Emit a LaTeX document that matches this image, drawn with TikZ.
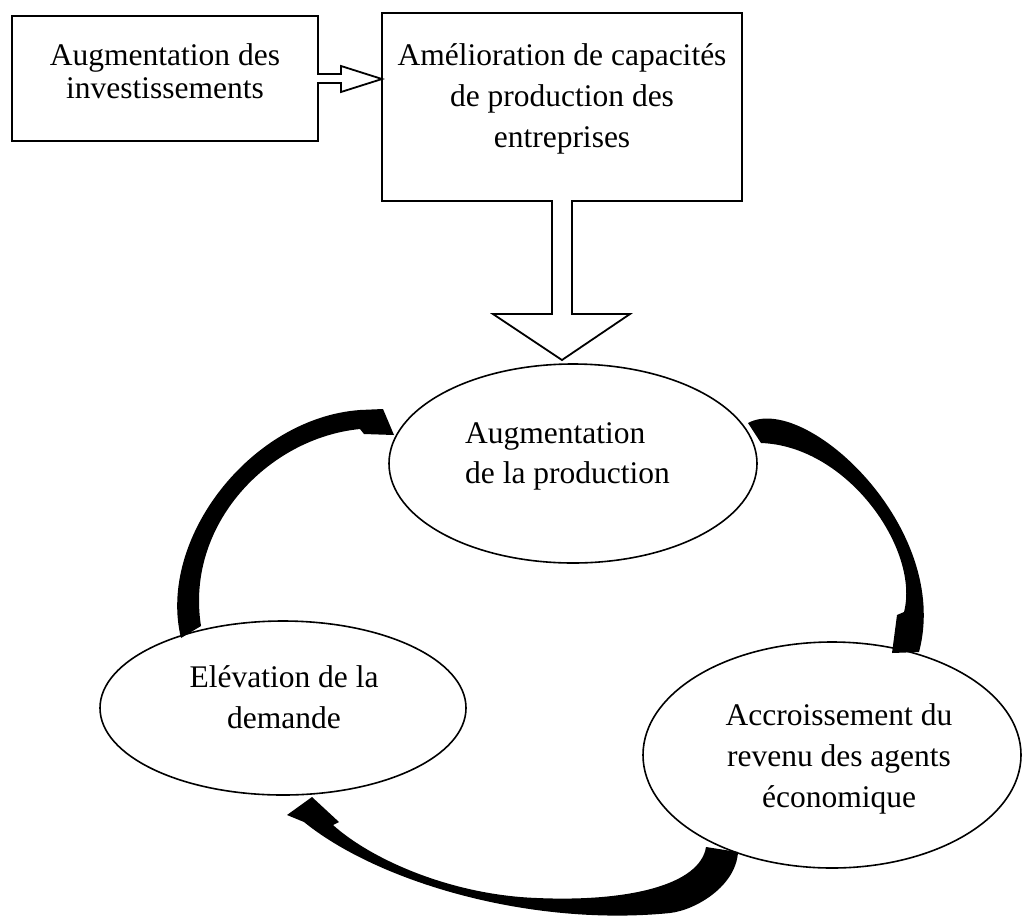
\documentclass[tikz,border=0pt]{standalone}
\usepackage{fontspec}
\setmainfont{Liberation Serif}
\usetikzlibrary{shapes.geometric}
\begin{document}
\begin{tikzpicture}[x=1pt,y=-1pt,
  box/.style={draw, line width=1.8pt, inner sep=0pt, outer sep=0pt},
  oval/.style={draw, ellipse, line width=1.6pt, inner sep=0pt, outer sep=0pt},
  txt/.style={inner sep=0pt, anchor=north},
  blockarrow/.style={draw, line width=1.8pt, line join=miter},
  curvedarrow/.style={fill=black}]
\useasboundingbox (0,0) rectangle (1024,916);

% shapes
\node[box, minimum width=306pt, minimum height=125pt] (inv) at (165,78.5) {};
\node[box, minimum width=360pt, minimum height=188pt] (cap) at (562,107) {};
\node[oval, minimum width=368pt, minimum height=199pt] (prod) at (573,463.5) {};
\node[oval, minimum width=366pt, minimum height=174pt] (dem) at (283,708) {};
\node[oval, minimum width=378pt, minimum height=226pt] (rev) at (832,755) {};

% texts
\node[txt, font=\fontsize{31.5}{33}\selectfont, align=center] (invt) at (165,43.5)
  {Augmentation des\\investissements};
\node[txt, font=\fontsize{31.5}{41}\selectfont, align=center] (capt) at (562,43.5)
  {Amélioration de capacités\\de production des\\entreprises};
\node[txt, anchor=north west, font=\fontsize{31.5}{40}\selectfont, align=left] (prodt) at (465,422)
  {Augmentation\\de la production};
\node[txt, font=\fontsize{31.5}{41}\selectfont, align=center] (demt) at (284,665.5)
  {Elévation de la\\demande};
\node[txt, font=\fontsize{31.5}{41}\selectfont, align=center] (revt) at (839,703.5)
  {Accroissement du\\revenu des agents\\économique};

% small block arrow inv -> cap
\fill[white] (316,74) rectangle (320,83);
\draw[blockarrow] (317,74) -- (341,74) -- (341,66) -- (cap.west |- 0,79) -- (341,92) -- (341,83) -- (317,83);

% big block arrow cap -> prod
\fill[white] (552,199) rectangle (572,203.5);
\draw[blockarrow] (552,200.1) -- (552,314) -- (493,314) -- (562,360) -- (630,314) -- (572,314) -- (572,200.1);

% curved arrow dem -> prod
\fill[curvedarrow] (181,638) .. controls (157,540) and (250,418) .. (360,410)
  -- (383,409) -- (394,435) -- (364,434) -- (360,429)
  .. controls (268,438) and (185,525) .. (201,626) -- cycle;

% curved arrow prod -> rev
\fill[curvedarrow] (748,423) .. controls (805,392) and (952,528) .. (919,652)
  -- (892,653) -- (897,615) -- (904,612)
  .. controls (920,550) and (848,446) .. (761,443) -- cycle;

% curved arrow rev -> dem
\fill[curvedarrow] (738,852) .. controls (736,886) and (696,910) .. (670,913)
  .. controls (530,927) and (378,882) .. (304,822)
  -- (287,815) -- (312,797) -- (339,822) -- (333,825)
  .. controls (372,860) and (452,895) .. (537,898)
  .. controls (628,902) and (700,885) .. (706,847) -- cycle;
\end{tikzpicture}
\end{document}
